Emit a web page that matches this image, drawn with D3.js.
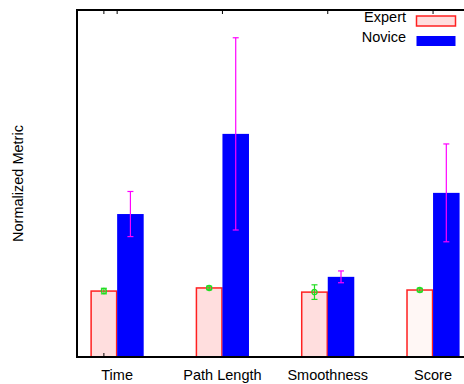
<!DOCTYPE html>
<html>
<head>
<meta charset="utf-8">
<script src="https://cdnjs.cloudflare.com/ajax/libs/d3/7.8.5/d3.min.js"></script>
<style>
  body { margin: 0; background: #fff; }
  text { font-family: "Liberation Sans", Arial, sans-serif; fill: #000; }
</style>
</head>
<body>
<div id="chart"></div>
<script>
// categories and series
var categories = ["Time", "Path Length", "Smoothness", "Score"];
var series = ["Expert", "Novice"];

// normalized values (y range 0..1)
var expert = [0.190, 0.199, 0.187, 0.193];
var expertErr = [0.008, 0.005, 0.021, 0.005];
var novice = [0.412, 0.643, 0.231, 0.473];
var noviceErr = [0.065, 0.277, 0.017, 0.141];

var W = 464, H = 384;
var margins = {top: 10, left: 77, bottom: 27};
var plotBottom = H - margins.bottom;

var svg = d3.select("#chart").append("svg")
    .attr("width", W)
    .attr("height", H);

var x0 = d3.scaleBand()
    .domain(categories)
    .range([64.5, 485.7]);

var barW = x0.bandwidth() * 0.252;

var x1 = d3.scaleBand()
    .domain(series)
    .range([x0.bandwidth() / 2 - barW, x0.bandwidth() / 2 + barW]);

var y = d3.scaleLinear()
    .domain([0, 1])
    .range([plotBottom, margins.top]);

var fills = {Expert: "#ffdede", Novice: "#0000ff"};
var strokes = {Expert: "#ff2020", Novice: "#0000ff"};

var rows = categories.map(function(c, i) {
    return [
        {cat: c, key: "Expert", v: expert[i], e: expertErr[i], i: i},
        {cat: c, key: "Novice", v: novice[i], e: noviceErr[i], i: i}
    ];
});

var groups = svg.selectAll("g.grp")
    .data(rows)
    .enter().append("g")
    .attr("class", "grp")
    .attr("transform", function(d) { return "translate(" + x0(d[0].cat) + ",0)"; });

groups.selectAll("rect")
    .data(function(d) { return d; })
    .enter().append("rect")
    .attr("x", function(d) { return x1(d.key) + (d.key === "Expert" ? 0.5 : 0); })
    .attr("width", function(d) { return x1.bandwidth() - (d.key === "Expert" ? 1 : 0); })
    .attr("y", function(d) { return y(d.v); })
    .attr("height", function(d) { return plotBottom - y(d.v); })
    .style("fill", function(d) { return (d.key === "Expert" && d.cat === "Score") ? "#fff7f5" : fills[d.key]; })
    .style("stroke", function(d) { return d.key === "Expert" ? strokes[d.key] : "none"; })
    .style("stroke-width", 1.5);

// error bars
var errs = groups.selectAll("g.err")
    .data(function(d) { return d; })
    .enter().append("g")
    .attr("class", "err")
    .attr("transform", function(d) { return "translate(" + (x1(d.key) + x1.bandwidth() / 2) + ",0)"; });

errs.append("line")
    .attr("x1", 0).attr("x2", 0)
    .attr("y1", function(d) { return y(d.v + d.e); })
    .attr("y2", function(d) { return y(d.v - d.e); })
    .style("stroke", function(d) { return d.key === "Expert" ? "#22dd22" : "#ff00ff"; })
    .style("stroke-width", 1.2);

errs.selectAll("line.cap")
    .data(function(d) { return [d.v + d.e, d.v - d.e].map(function(v) { return {v: v, key: d.key}; }); })
    .enter().append("line")
    .attr("class", "cap")
    .attr("x1", -3).attr("x2", 3)
    .attr("y1", function(d) { return y(d.v); })
    .attr("y2", function(d) { return y(d.v); })
    .style("stroke", function(d) { return d.key === "Expert" ? "#22dd22" : "#ff00ff"; })
    .style("stroke-width", 1.2);

errs.filter(function(d) { return d.key === "Expert"; })
    .append("circle")
    .attr("cx", 0)
    .attr("cy", function(d) { return y(d.v); })
    .attr("r", 2.6)
    .style("fill", "none")
    .style("stroke", "#22dd22")
    .style("stroke-width", 1.3);

// frame (right side runs off the image)
svg.append("path")
    .attr("d", "M" + (W + 5) + "," + margins.top + "H" + margins.left + "V" + plotBottom + "H" + (W + 5))
    .style("fill", "none")
    .style("stroke", "#000")
    .style("stroke-width", 2);

// ticks
var topTicks = categories.map(function(c) { return x0(c) + x0.bandwidth() / 2; });
topTicks.push(x0(categories[0]) + x1("Expert") + x1.bandwidth() / 2);
svg.selectAll("line.ttick")
    .data(topTicks)
    .enter().append("line")
    .attr("class", "ttick")
    .attr("x1", function(d) { return d; }).attr("x2", function(d) { return d; })
    .attr("y1", margins.top).attr("y2", margins.top + 4)
    .style("stroke", "#000").style("stroke-width", 1);

svg.append("line")
    .attr("x1", x0(categories[0]) + x1("Expert") + x1.bandwidth() / 2)
    .attr("x2", x0(categories[0]) + x1("Expert") + x1.bandwidth() / 2)
    .attr("y1", plotBottom).attr("y2", plotBottom - 4)
    .style("stroke", "#000").style("stroke-width", 1);

// category labels
svg.selectAll("text.cat")
    .data(categories)
    .enter().append("text")
    .attr("class", "cat")
    .attr("x", function(d) { return x0(d) + x0.bandwidth() / 2; })
    .attr("y", 380)
    .attr("text-anchor", "middle")
    .style("font-size", "14.5px")
    .text(function(d) { return d; });

// y axis title
svg.append("text")
    .attr("transform", "translate(23," + ((margins.top + plotBottom) / 2) + ") rotate(-90)")
    .attr("text-anchor", "middle")
    .style("font-size", "14.5px")
    .text("Normalized Metric");

// legend
var legend = svg.selectAll("g.leg")
    .data(series)
    .enter().append("g")
    .attr("class", "leg")
    .attr("transform", function(d, i) { return "translate(0," + (i * 20) + ")"; });

legend.append("text")
    .attr("x", 406)
    .attr("y", 22)
    .attr("text-anchor", "end")
    .style("font-size", "14.5px")
    .text(function(d) { return d; });

legend.append("rect")
    .attr("x", 416.5)
    .attr("y", 16)
    .attr("width", 39)
    .attr("height", 10)
    .style("fill", function(d) { return fills[d]; })
    .style("stroke", function(d) { return d === "Expert" ? strokes[d] : "none"; })
    .style("stroke-width", 1.5);
</script>
</body>
</html>
